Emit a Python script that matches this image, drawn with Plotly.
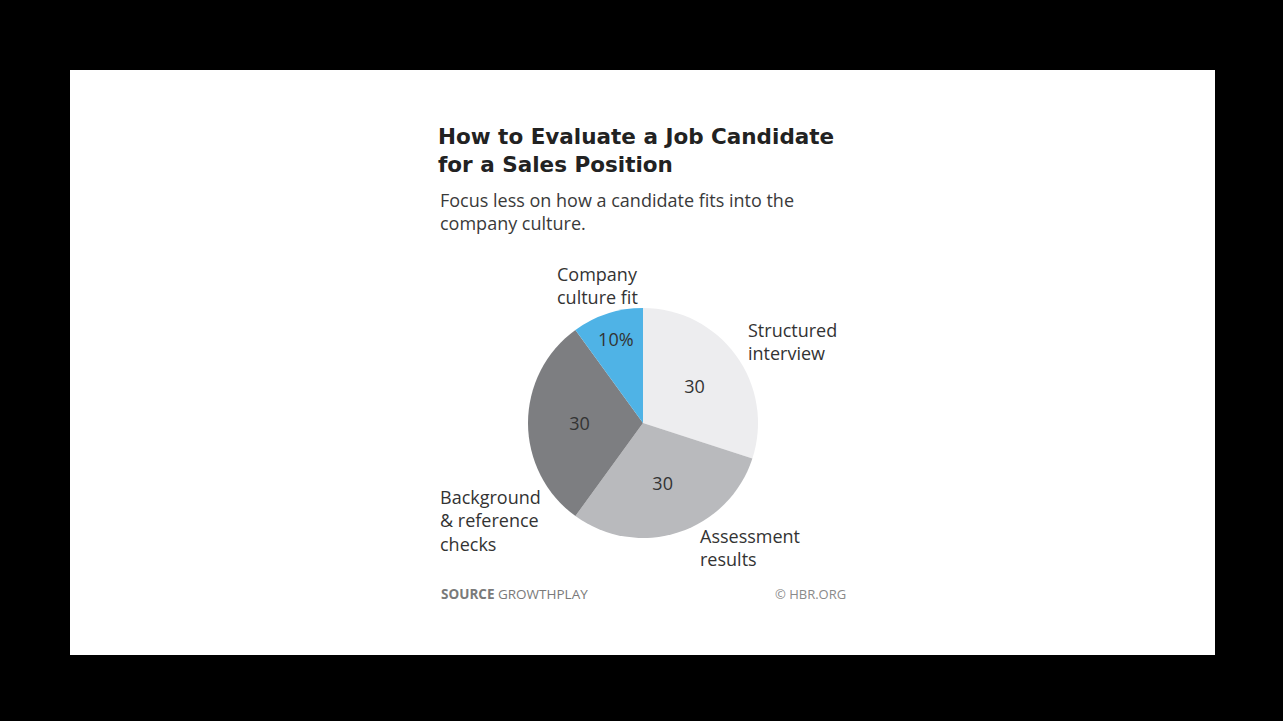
import plotly.graph_objects as go

W, H = 1283, 721

# ---- data ----
categories = ["Structured interview", "Assessment results", "Background & reference checks", "Company culture fit"]
values = [30, 30, 30, 10]
value_labels = ["30", "30", "30", "10%"]
colors = ["#ededef", "#b9babd", "#7d7e81", "#4fb3e6"]

title_lines = ["How to Evaluate a Job Candidate", "for a Sales Position"]
subtitle_lines = ["Focus less on how a candidate fits into the", "company culture."]
outer_labels = ["Structured<br>interview", "Assessment<br>results", "Background<br>& reference<br>checks", "Company<br>culture fit"]


def px(x):
    return x / W


def py(y):
    return 1 - y / H


FONT = "Open Sans"

fig = go.Figure()
fig.add_trace(go.Pie(
    labels=categories,
    values=values,
    text=value_labels,
    textinfo="text",
    sort=False,
    direction="clockwise",
    rotation=0,
    marker=dict(colors=colors, line=dict(width=0)),
    textposition="inside",
    insidetextorientation="horizontal",
    textfont=dict(family=FONT, size=18, color="#333333"),
    domain=dict(x=[px(528), px(758)], y=[py(538), py(308)]),
    showlegend=False,
    hoverinfo="label+value",
))

annotations = []
# title
annotations.append(dict(
    text="<b>" + title_lines[0] + "</b><br><b>" + title_lines[1] + "</b>",
    x=px(436), y=py(150), xanchor="left", yanchor="middle",
    align="left", showarrow=False, font=dict(family="DejaVu Sans", size=21.5, color="#222222"),
    xref="paper", yref="paper"))
# subtitle
annotations.append(dict(
    text="<br>".join(subtitle_lines), x=px(438), y=py(211), xanchor="left", yanchor="middle",
    align="left", showarrow=False, font=dict(family=FONT, size=18, color="#3a3a3a"),
    xref="paper", yref="paper"))

# outer category labels
label_pos = [(746, 341), (698, 547), (438, 520), (555, 285)]
for lab, (lx, ly) in zip(outer_labels, label_pos):
    annotations.append(dict(
        text=lab, x=px(lx), y=py(ly), xanchor="left", yanchor="middle", align="left",
        showarrow=False, font=dict(family=FONT, size=18, color="#333333"),
        xref="paper", yref="paper"))

# footer
annotations.append(dict(
    text="<b>SOURCE</b> GROWTHPLAY", x=px(439), y=py(594), xanchor="left", yanchor="middle",
    showarrow=False, font=dict(family=FONT, size=13.5, color="#7a7a7a"), xref="paper", yref="paper"))
annotations.append(dict(
    text="© HBR.ORG", x=px(848), y=py(594), xanchor="right", yanchor="middle",
    showarrow=False, font=dict(family=FONT, size=13, color="#8a8a8a"), xref="paper", yref="paper"))

fig.update_layout(
    width=W, height=H,
    margin=dict(l=0, r=0, t=0, b=0),
    paper_bgcolor="#000000",
    plot_bgcolor="#000000",
    annotations=annotations,
    shapes=[dict(type="rect", xref="paper", yref="paper", x0=px(70), x1=px(1215), y0=py(655), y1=py(70),
                 fillcolor="#ffffff", line=dict(width=0), layer="below")],
)

fig.write_html("out.html", config={"displayModeBar": False})
